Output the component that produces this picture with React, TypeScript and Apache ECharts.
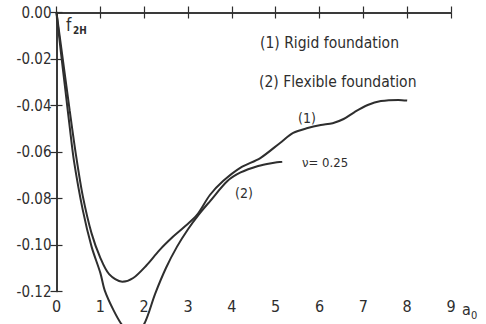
import React, { useEffect, useRef } from "react";
import * as echarts from "echarts";

const xTickValues = [0, 1, 2, 3, 4, 5, 6, 7, 8, 9];
const yMin = -0.12;
const yMax = 0;
const yStep = 0.02;

// (1) Rigid foundation
const rigidX = [0, 0.15, 0.3, 0.45, 0.6, 0.8, 1.0, 1.2, 1.5, 1.75, 2.05, 2.35, 2.65, 2.9, 3.2, 3.5, 3.8, 4.2, 4.65, 5.1, 5.4, 5.73, 6.03, 6.3, 6.55, 6.8, 7.1, 7.4, 7.8, 8.0];
const rigidY = [0, -0.021, -0.042, -0.062, -0.079, -0.095, -0.1055, -0.1125, -0.1158, -0.1142, -0.1088, -0.1022, -0.0966, -0.0925, -0.0872, -0.0785, -0.0725, -0.0667, -0.0626, -0.0561, -0.0518, -0.0497, -0.0484, -0.0476, -0.0458, -0.0428, -0.0398, -0.0381, -0.0376, -0.0379];

// (2) Flexible foundation
const flexX = [0, 0.1, 0.2, 0.3, 0.4, 0.6, 0.8, 1.0, 1.1, 1.3, 1.5, 1.75, 2.0, 2.25, 2.5, 2.75, 3.0, 3.25, 3.5, 3.9, 4.2, 4.6, 4.9, 5.15];
const flexY = [0, -0.017, -0.033, -0.049, -0.064, -0.085, -0.1007, -0.112, -0.1195, -0.128, -0.1345, -0.139, -0.134, -0.121, -0.1098, -0.1007, -0.0932, -0.0868, -0.0812, -0.0725, -0.0688, -0.066, -0.0648, -0.0642];

const legendLines = ["(1) Rigid foundation", "(2) Flexible foundation"];
const curveLabels = ["(1)", "(2)"];
const poissonLabel = "\u03bd= 0.25";

const FONT = "'DejaVu Sans Condensed', 'Liberation Sans Narrow', 'DejaVu Sans', sans-serif";
const INK = "#2e2e2e";

export default function App() {
  const ref = useRef<HTMLDivElement>(null);

  useEffect(() => {
    const chart = echarts.init(ref.current!, null, { renderer: "svg" });

    const axisCommon = {
      axisLine: { show: true, lineStyle: { color: INK, width: 1.5 } },
      axisTick: { show: true, inside: true, length: 6, lineStyle: { color: INK, width: 1.2 } },
      splitLine: { show: false },
    };

    const option: any = {
      animation: false,
      backgroundColor: "#fff",
      grid: { left: 56.5, right: 35, top: 12.5, bottom: 32.5, containLabel: false },
      xAxis: [
        {
          type: "value", position: "bottom", min: 0, max: 9, interval: 1,
          ...axisCommon,
          axisLabel: {
            color: INK, fontSize: 16, fontFamily: FONT, margin: 7,
            formatter: (v: number) => (xTickValues.includes(v) ? String(v) : ""),
          },
        },
        {
          type: "value", position: "top", min: 0, max: 9, interval: 1,
          ...axisCommon,
          axisLabel: { show: false },
        },
      ],
      yAxis: [
        {
          type: "value", position: "left", min: yMin, max: yMax, interval: yStep,
          ...axisCommon,
          axisLabel: {
            color: INK, fontSize: 15, fontFamily: FONT, margin: 5,
            formatter: (v: number) => (Math.abs(v) < 1e-9 ? "0.00" : v.toFixed(2)),
          },
        },
        {
          type: "value", position: "right", min: yMin, max: yMax, interval: yStep,
          ...axisCommon,
          axisLabel: { show: false },
        },
      ],
      series: [
        {
          name: "rigid", type: "line", xAxisIndex: 0, yAxisIndex: 0,
          data: rigidX.map((x, i) => [x, rigidY[i]]),
          symbol: "none", smooth: 0.3, clip: false,
          lineStyle: { color: INK, width: 2 },
        },
        {
          name: "flexible", type: "line", xAxisIndex: 0, yAxisIndex: 0,
          data: flexX.map((x, i) => [x, flexY[i]]),
          symbol: "none", smooth: 0.3, clip: false,
          lineStyle: { color: INK, width: 2 },
        },
      ],
      graphic: [
        { type: "text", x: 66, y: 25, style: { text: "f", fill: INK, font: `17px ${FONT}`, textVerticalAlign: "middle" } },
        { type: "text", x: 73, y: 30, style: { text: "2H", fill: INK, font: `bold 10px ${FONT}`, textVerticalAlign: "middle" } },
        { type: "text", x: 462, y: 309, style: { text: "a", fill: INK, font: `16px ${FONT}`, textVerticalAlign: "middle" } },
        { type: "text", x: 471, y: 315, style: { text: "0", fill: INK, font: `11px ${FONT}`, textVerticalAlign: "middle" } },
        { type: "text", x: 260, y: 43, style: { text: legendLines[0], fill: INK, font: `15.5px ${FONT}`, textVerticalAlign: "middle" } },
        { type: "text", x: 259, y: 82, style: { text: legendLines[1], fill: INK, font: `15.5px ${FONT}`, textVerticalAlign: "middle" } },
        { type: "text", x: 298, y: 118, style: { text: curveLabels[0], fill: INK, font: `14px ${FONT}`, textVerticalAlign: "middle" } },
        { type: "text", x: 235, y: 193, style: { text: curveLabels[1], fill: INK, font: `14px ${FONT}`, textVerticalAlign: "middle" } },
        { type: "text", x: 302, y: 162, style: { text: poissonLabel, fill: INK, font: `13px ${FONT}`, textVerticalAlign: "middle" } },
      ],
    };

    chart.setOption(option);
    return () => chart.dispose();
  }, []);

  return (
    <div
      ref={ref}
      style={{ position: "fixed", left: 0, top: 0, width: 486, height: 324, background: "#fff" }}
    />
  );
}
